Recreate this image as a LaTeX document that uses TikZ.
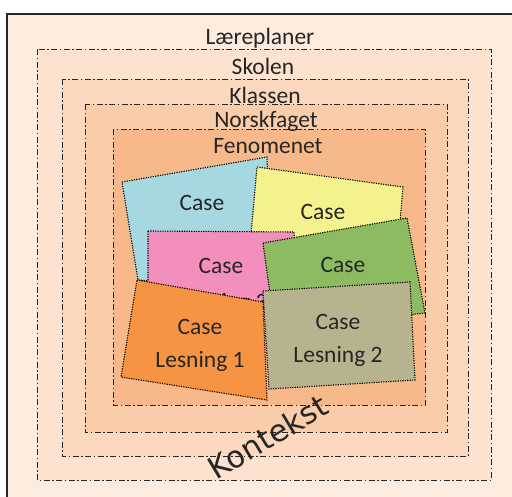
\documentclass[tikz,border=0pt]{standalone}
\usepackage{fontspec}
\setmainfont{Carlito}
\newfontfamily\kfont{DejaVu Sans}
\definecolor{bgA}{HTML}{FDEBDE}
\definecolor{bgB}{HTML}{FCE2CF}
\definecolor{bgC}{HTML}{FBD8BE}
\definecolor{bgD}{HTML}{FACDAA}
\definecolor{bgE}{HTML}{F8B98A}
\definecolor{cblue}{HTML}{A6D8E2}
\definecolor{cyellow}{HTML}{F4F28D}
\definecolor{cpink}{HTML}{F28FBD}
\definecolor{cgreen}{HTML}{8DBB62}
\definecolor{corange}{HTML}{F79443}
\definecolor{ctan}{HTML}{B8B38F}
\definecolor{ink}{HTML}{262626}
\tikzset{
  ring/.style={draw=ink, line width=0.9pt, dash pattern=on 6pt off 2.5pt on 1.5pt off 2.5pt},
  card/.style={draw=black, line width=1.1pt, dash pattern=on 1.2pt off 1.2pt},
  lbl/.style={font=\fontsize{23.5}{27}\selectfont, text=ink, inner sep=0pt},
}
\begin{document}
\begin{tikzpicture}[x=1pt,y=-1pt]
\useasboundingbox (0,0) rectangle (512,496);
\clip (0,0) rectangle (512,496);
\fill[white] (0,0) rectangle (512,496);
\draw[fill=bgA, draw=ink, line width=1.3pt] (7,14) rectangle (540,530);
\path[ring, fill=bgB] (37,49) rectangle (491,480);
\path[ring, fill=bgC] (62,79) rectangle (468,456);
\path[ring, fill=bgD] (85,104) rectangle (447,432);
\path[ring, fill=bgE] (113,129) rectangle (425,405);
\node[lbl] (l1) at (260,38) {Læreplaner};
\node[lbl] (l2) at (263,66) {Skolen};
\node[lbl] (l3) at (265,95) {Klassen};
\node[lbl] (l4) at (266,121) {Norskfaget};
\node[lbl] (l5) at (268,146) {Fenomenet};
% cards
\path[card, fill=cblue] (122,182) -- (267,157) -- (272,290) -- (138,280) -- cycle;
\node[lbl] (tb) at (202,203) {Case};
\path[card, fill=cyellow] (257,167) -- (403,187) -- (398,245) -- (250,245) -- cycle;
\node[lbl] (ty) at (323,212) {Case};
\path[card, fill=cpink] (148,231) -- (294,232) -- (300,312) -- (148,292) -- cycle;
\node[lbl] (tp) at (221,266) {Case};
\node[lbl] (tp2) at (223,303) {Lesning 3};
\path[card, fill=cgreen] (263,243) -- (407,218) -- (425,313) -- (275,330) -- cycle;
\node[lbl] (tg) at (343,265) {Case};
\path[card, fill=corange] (137,280) -- (263,302) -- (267,400) -- (121,377) -- cycle;
\node[lbl] (to) at (200,327) {Case};
\node[lbl] (to2) at (200,361) {Lesning 1};
\path[card, fill=ctan] (263,291) -- (410,282) -- (415,380) -- (269,389) -- cycle;
\node[lbl] (tt) at (338,322) {Case};
\node[lbl] (tt2) at (338,356) {Lesning 2};
\node[text=ink, inner sep=0pt, rotate=31, font=\kfont\fontsize{30.5}{34}\selectfont] (k) at (268,437) {Kontekst};
\end{tikzpicture}
\end{document}
